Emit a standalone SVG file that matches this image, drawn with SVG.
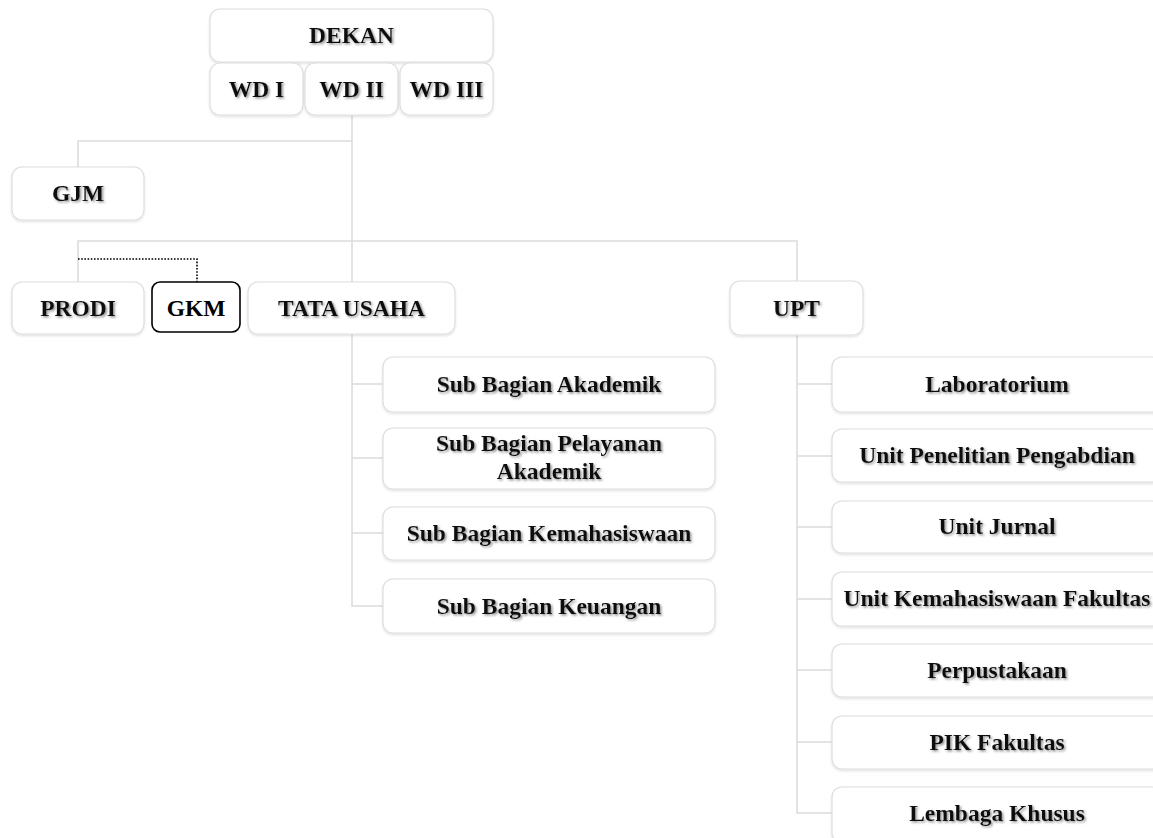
<svg xmlns="http://www.w3.org/2000/svg" width="1153" height="838" viewBox="0 0 1153 838">
<defs>
<filter id="ts" x="-10%" y="-30%" width="120%" height="160%">
<feDropShadow dx="1.5" dy="1.5" stdDeviation="1" flood-color="#777" flood-opacity="0.8"/>
</filter>
<filter id="bs" x="-5%" y="-10%" width="110%" height="130%">
<feDropShadow dx="0" dy="1.5" stdDeviation="1" flood-color="#000" flood-opacity="0.12"/>
</filter>
</defs>
<style>
.box{fill:#fff;stroke:#dedede;stroke-width:1.2;filter:url(#bs)}
.gkm{fill:#fff;stroke:#000;stroke-width:1.6}
.t{font-family:"Liberation Serif","Times New Roman",serif;font-weight:bold;font-size:23.5px;fill:#111;text-anchor:middle;filter:url(#ts)}
.tp{font-family:"Liberation Serif","Times New Roman",serif;font-weight:bold;font-size:23.5px;fill:#000;text-anchor:middle}
.ln{fill:none;stroke:#dcdcdc;stroke-width:1.6}
.dot{fill:none;stroke:#000;stroke-width:1.6;stroke-dasharray:1.6 1.6}
</style>
<rect width="1153" height="838" fill="#fff"/>
<g id="connectors">
<path class="ln" d="M352 115 V606 H383"/>
<path class="ln" d="M352 141 H78 V167"/>
<path class="ln" d="M78 282 V241 H797 V281"/>
<path class="ln" d="M352 384 H383 M352 458 H383 M352 533 H383"/>
<path class="ln" d="M797 335 V813 H832 M797 384 H832 M797 456 H832 M797 527 H832 M797 599 H832 M797 670 H832 M797 742 H832"/>
<path class="dot" d="M78 259 H197 V282"/>
</g>
<g id="dekan"><rect class="box" x="210" y="9" width="283" height="53" rx="10"/><text class="t" x="351.5" y="43">DEKAN</text></g>
<g id="wd1"><rect class="box" x="210" y="63" width="93" height="52" rx="10"/><text class="t" x="256.5" y="97">WD I</text></g>
<g id="wd2"><rect class="box" x="305" y="63" width="93" height="52" rx="10"/><text class="t" x="351.5" y="97">WD II</text></g>
<g id="wd3"><rect class="box" x="400" y="63" width="93" height="52" rx="10"/><text class="t" x="446.5" y="97">WD III</text></g>
<g id="gjm"><rect class="box" x="12" y="167" width="132" height="53" rx="10"/><text class="t" x="78" y="201">GJM</text></g>
<g id="prodi"><rect class="box" x="12" y="282" width="132" height="52" rx="10"/><text class="t" x="78" y="316">PRODI</text></g>
<g id="gkm"><rect class="gkm" x="152" y="282" width="88" height="50" rx="8"/><text class="tp" x="196" y="316">GKM</text></g>
<g id="tatausaha"><rect class="box" x="248" y="282" width="207" height="52" rx="10"/><text class="t" x="351.5" y="316">TATA USAHA</text></g>
<g id="upt"><rect class="box" x="730" y="281" width="133" height="54" rx="10"/><text class="t" x="796.5" y="316">UPT</text></g>
<g id="sb-akademik"><rect class="box" x="383" y="357" width="332" height="55" rx="10"/><text class="t" x="549" y="392">Sub Bagian Akademik</text></g>
<g id="sb-pelayanan"><rect class="box" x="383" y="428" width="332" height="61" rx="10"/><text class="t" x="549" y="451">Sub Bagian Pelayanan</text><text class="t" x="549" y="479">Akademik</text></g>
<g id="sb-kemahasiswaan"><rect class="box" x="383" y="507" width="332" height="53" rx="10"/><text class="t" x="549" y="541">Sub Bagian Kemahasiswaan</text></g>
<g id="sb-keuangan"><rect class="box" x="383" y="579" width="332" height="54" rx="10"/><text class="t" x="549" y="614">Sub Bagian Keuangan</text></g>
<g id="laboratorium"><rect class="box" x="832" y="357" width="330" height="55" rx="10"/><text class="t" x="997" y="392">Laboratorium</text></g>
<g id="penelitian"><rect class="box" x="832" y="429" width="330" height="53" rx="10"/><text class="t" x="997" y="463">Unit Penelitian Pengabdian</text></g>
<g id="jurnal"><rect class="box" x="832" y="501" width="330" height="52" rx="10"/><text class="t" x="997" y="534">Unit Jurnal</text></g>
<g id="kemahasiswaan-fak"><rect class="box" x="832" y="572" width="330" height="54" rx="10"/><text class="t" x="997" y="606">Unit Kemahasiswaan Fakultas</text></g>
<g id="perpustakaan"><rect class="box" x="832" y="644" width="330" height="53" rx="10"/><text class="t" x="997" y="678">Perpustakaan</text></g>
<g id="pik"><rect class="box" x="832" y="716" width="330" height="53" rx="10"/><text class="t" x="997" y="750">PIK Fakultas</text></g>
<g id="lembaga"><rect class="box" x="832" y="787" width="330" height="56" rx="10"/><text class="t" x="997" y="821">Lembaga Khusus</text></g>
</svg>
